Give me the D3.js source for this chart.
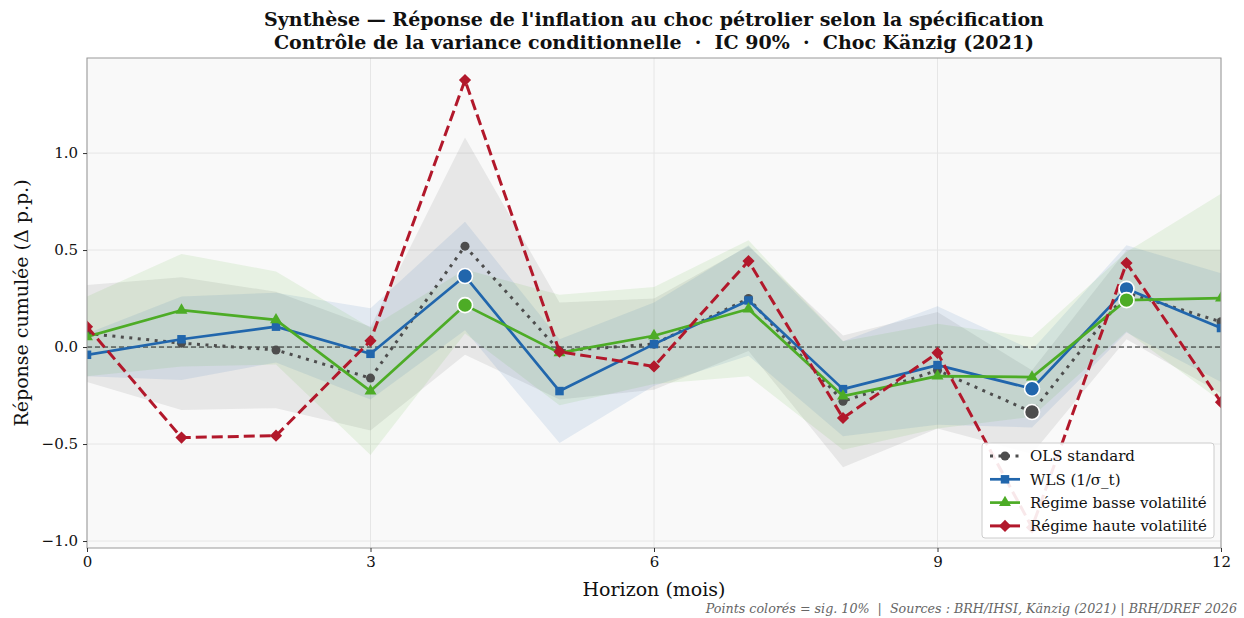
<!DOCTYPE html>
<html lang="fr">
<head>
<meta charset="utf-8">
<script src="https://cdn.jsdelivr.net/npm/d3@7"></script>
<style>
  html, body { margin: 0; padding: 0; background: #ffffff; }
  svg { display: block; }
  svg text { font-family: "DejaVu Serif", serif; white-space: pre; }
</style>
</head>
<body>
<svg id="chart" width="1244" height="618"></svg>
<script>
// Horizons (mois)
const horizons = [0, 1, 2, 3, 4, 5, 6, 7, 8, 9, 10, 11, 12];

// OLS standard
const olsMean = [0.07, 0.02, -0.015, -0.16, 0.52, -0.02, 0.015, 0.25, -0.28, -0.12, -0.335, 0.28, 0.13];
const olsLo   = [-0.18, -0.325, -0.315, -0.43, -0.04, -0.27, -0.22, -0.02, -0.62, -0.42, -0.55, 0.04, -0.24];
const olsHi   = [0.32, 0.36, 0.285, 0.105, 1.08, 0.23, 0.25, 0.52, 0.06, 0.18, -0.12, 0.50, 0.50];
const olsSig  = [0, 0, 0, 0, 0, 0, 0, 0, 0, 0, 1, 0, 0];

// WLS (1/sigma_t)
const wlsMean = [-0.04, 0.04, 0.105, -0.035, 0.366, -0.227, 0.015, 0.24, -0.217, -0.093, -0.215, 0.30, 0.098];
const wlsLo   = [-0.15, -0.17, -0.08, -0.27, 0.086, -0.495, -0.20, -0.045, -0.46, -0.40, -0.415, 0.075, -0.18];
const wlsHi   = [0.07, 0.26, 0.28, 0.20, 0.646, 0.04, 0.23, 0.525, 0.03, 0.21, -0.015, 0.525, 0.38];
const wlsSig  = [0, 0, 0, 0, 1, 0, 0, 0, 0, 0, 1, 1, 0];

// Régime basse volatilité
const lowMean = [0.053, 0.19, 0.14, -0.227, 0.216, -0.03, 0.058, 0.196, -0.253, -0.15, -0.155, 0.242, 0.252];
const lowLo   = [-0.15, -0.10, -0.09, -0.557, 0.07, -0.30, -0.19, -0.15, -0.53, -0.42, -0.36, 0.08, -0.28];
const lowHi   = [0.26, 0.48, 0.39, 0.10, 0.40, 0.27, 0.31, 0.55, 0.03, 0.12, 0.05, 0.49, 0.79];
const lowSig  = [0, 0, 0, 0, 1, 0, 0, 0, 0, 0, 0, 1, 0];

// Régime haute volatilité (sans bande)
const highMean = [0.105, -0.467, -0.457, 0.032, 1.376, -0.024, -0.10, 0.443, -0.366, -0.03, -0.93, 0.433, -0.284];
const highSig  = [0, 0, 0, 0, 0, 0, 0, 0, 0, 0, 0, 0, 0];

const xTicks = [0, 3, 6, 9, 12];
const yTicks = [-1.0, -0.5, 0.0, 0.5, 1.0];

const titleLines = [
  "Synthèse — Réponse de l'inflation au choc pétrolier selon la spécification",
  "Contrôle de la variance conditionnelle  ·  IC 90%  ·  Choc Känzig (2021)"
];
const xLabel = "Horizon (mois)";
const yLabel = "Réponse cumulée (Δ p.p.)";
const footnote = "Points colorés = sig. 10%  |  Sources : BRH/IHSI, Känzig (2021) | BRH/DREF 2026";

const series = [
  { name: "OLS standard", mean: olsMean, lo: olsLo, hi: olsHi, sig: olsSig,
    color: "#4d4d4d", dash: "3,5.5", width: 3, marker: "circle", band: true },
  { name: "WLS (1/σ_t)", mean: wlsMean, lo: wlsLo, hi: wlsHi, sig: wlsSig,
    color: "#2166ac", dash: null, width: 2.7, marker: "square", band: true },
  { name: "Régime basse volatilité", mean: lowMean, lo: lowLo, hi: lowHi, sig: lowSig,
    color: "#4dac26", dash: null, width: 2.7, marker: "triangle", band: true },
  { name: "Régime haute volatilité", mean: highMean, lo: null, hi: null, sig: highSig,
    color: "#b2182b", dash: "11,5", width: 3, marker: "diamond", band: false }
];

const FONT = "'DejaVu Serif', serif";
const m = { left: 87, right: 1221, top: 58, bottom: 548 };

const svg = d3.select("#chart");

const x = d3.scaleLinear().domain([0, 12]).range([m.left, m.right]);
const y = d3.scaleLinear().domain([-1.036, 1.49]).range([m.bottom, m.top]);

// Plot background
svg.append("rect")
  .attr("x", m.left).attr("y", m.top)
  .attr("width", m.right - m.left).attr("height", m.bottom - m.top)
  .attr("fill", "#f9f9f9");

svg.append("defs").append("clipPath").attr("id", "plotclip")
  .append("rect")
  .attr("x", m.left).attr("y", m.top)
  .attr("width", m.right - m.left).attr("height", m.bottom - m.top);

// Grid
const grid = svg.append("g");
grid.selectAll("line.gx").data(xTicks).join("line")
  .attr("x1", d => x(d)).attr("x2", d => x(d))
  .attr("y1", m.top).attr("y2", m.bottom)
  .attr("stroke", "#e6e6e6").attr("stroke-width", 1);
grid.selectAll("line.gy").data(yTicks).join("line")
  .attr("x1", m.left).attr("x2", m.right)
  .attr("y1", d => y(d)).attr("y2", d => y(d))
  .attr("stroke", "#e6e6e6").attr("stroke-width", 1);

const plot = svg.append("g").attr("clip-path", "url(#plotclip)");

// Confidence bands (IC 90%)
series.filter(s => s.band).forEach(s => {
  const area = d3.area()
    .x((d, i) => x(horizons[i]))
    .y0((d, i) => y(s.lo[i]))
    .y1((d, i) => y(s.hi[i]));
  plot.append("path")
    .attr("d", area(s.mean))
    .attr("fill", s.color)
    .attr("fill-opacity", 0.1);
});

// Zero line
plot.append("line")
  .attr("x1", m.left).attr("x2", m.right)
  .attr("y1", y(0)).attr("y2", y(0))
  .attr("stroke", "#222").attr("stroke-width", 1)
  .attr("stroke-dasharray", "5,3");

function markerPath(type) {
  if (type === "circle") return d3.symbol().type(d3.symbolCircle).size(64)();
  if (type === "square") return d3.symbol().type(d3.symbolSquare).size(72)();
  if (type === "triangle") return d3.symbol().type(d3.symbolTriangle).size(62)();
  return d3.symbol().type(d3.symbolSquare).size(74)(); // diamond = rotated square
}
const markerRot = { circle: 0, square: 0, triangle: 0, diamond: 45 };

// Lines and markers
series.forEach(s => {
  const line = d3.line().x((d, i) => x(horizons[i])).y(d => y(d));
  plot.append("path")
    .attr("d", line(s.mean))
    .attr("fill", "none")
    .attr("stroke", s.color)
    .attr("stroke-width", s.width)
    .attr("stroke-dasharray", s.dash)
    .attr("stroke-linejoin", "round");
  plot.selectAll(null).data(s.mean).join("path")
    .attr("d", markerPath(s.marker))
    .attr("transform", (d, i) => `translate(${x(horizons[i])},${y(d)}) rotate(${markerRot[s.marker]})`)
    .attr("fill", s.color);
});

// Significant points (10%)
series.forEach(s => {
  const pts = s.mean.map((v, i) => ({ h: horizons[i], v, sig: s.sig[i] })).filter(p => p.sig);
  plot.selectAll(null).data(pts).join("circle")
    .attr("cx", p => x(p.h)).attr("cy", p => y(p.v))
    .attr("r", 7.5)
    .attr("fill", s.color)
    .attr("stroke", "#ffffff").attr("stroke-width", 1.6);
});

// Frame
svg.append("rect")
  .attr("x", m.left).attr("y", m.top)
  .attr("width", m.right - m.left).attr("height", m.bottom - m.top)
  .attr("fill", "none").attr("stroke", "#999").attr("stroke-width", 1);

// Axes
const xAxis = svg.append("g")
  .attr("transform", `translate(0,${m.bottom})`)
  .call(d3.axisBottom(x).tickValues(xTicks).tickFormat(d3.format("d")).tickSize(4).tickPadding(4));
const yAxis = svg.append("g")
  .attr("transform", `translate(${m.left},0)`)
  .call(d3.axisLeft(y).tickValues(yTicks).tickFormat(d3.format(".1f")).tickSize(4).tickPadding(5));
[xAxis, yAxis].forEach(g => {
  g.attr("font-family", FONT).attr("font-size", 15);
  g.select(".domain").remove();
  g.selectAll(".tick line").attr("stroke", "#333").attr("stroke-width", 1);
  g.selectAll(".tick text")
    .attr("fill", "#111")
    .attr("font-family", FONT)
    .attr("font-size", 15);
});

// Titles
svg.append("g").selectAll("text").data(titleLines).join("text")
  .attr("x", (m.left + m.right) / 2)
  .attr("y", (d, i) => 26 + i * 23)
  .attr("text-anchor", "middle")
  .attr("font-family", FONT)
  .attr("font-size", 19)
  .attr("font-weight", "bold")
  .attr("fill", "#111")
  .text(d => d);

svg.append("text")
  .attr("x", (m.left + m.right) / 2).attr("y", 596)
  .attr("text-anchor", "middle")
  .attr("font-family", FONT)
  .attr("font-size", 19)
  .attr("fill", "#111")
  .text(xLabel);

svg.append("text")
  .attr("transform", `translate(28,${(m.top + m.bottom) / 2}) rotate(-90)`)
  .attr("text-anchor", "middle")
  .attr("font-family", FONT)
  .attr("font-size", 19)
  .attr("fill", "#111")
  .text(yLabel);

svg.append("text")
  .attr("x", 1237).attr("y", 613)
  .attr("text-anchor", "end")
  .attr("font-family", FONT)
  .attr("font-size", 12.7)
  .attr("font-style", "italic")
  .attr("fill", "#666")
  .text(footnote);

// Legend
const lg = svg.append("g").attr("transform", "translate(982,443)");
lg.append("rect")
  .attr("width", 232).attr("height", 95)
  .attr("rx", 3)
  .attr("fill", "#ffffff").attr("fill-opacity", 0.9)
  .attr("stroke", "#cccccc").attr("stroke-width", 1);
series.forEach((s, i) => {
  const row = lg.append("g").attr("transform", `translate(0,${13 + i * 23.3})`);
  row.append("line")
    .attr("x1", 8).attr("x2", 38).attr("y1", 0).attr("y2", 0)
    .attr("stroke", s.color).attr("stroke-width", s.width)
    .attr("stroke-dasharray", s.marker === "circle" ? s.dash : null);
  row.append("path")
    .attr("d", markerPath(s.marker))
    .attr("transform", `translate(23,0) rotate(${markerRot[s.marker]})`)
    .attr("fill", s.color);
  row.append("text")
    .attr("x", 48).attr("y", 0)
    .attr("dy", "0.35em")
    .attr("font-family", FONT)
    .attr("font-size", 15)
    .attr("fill", "#111")
    .text(s.name);
});
</script>
</body>
</html>
